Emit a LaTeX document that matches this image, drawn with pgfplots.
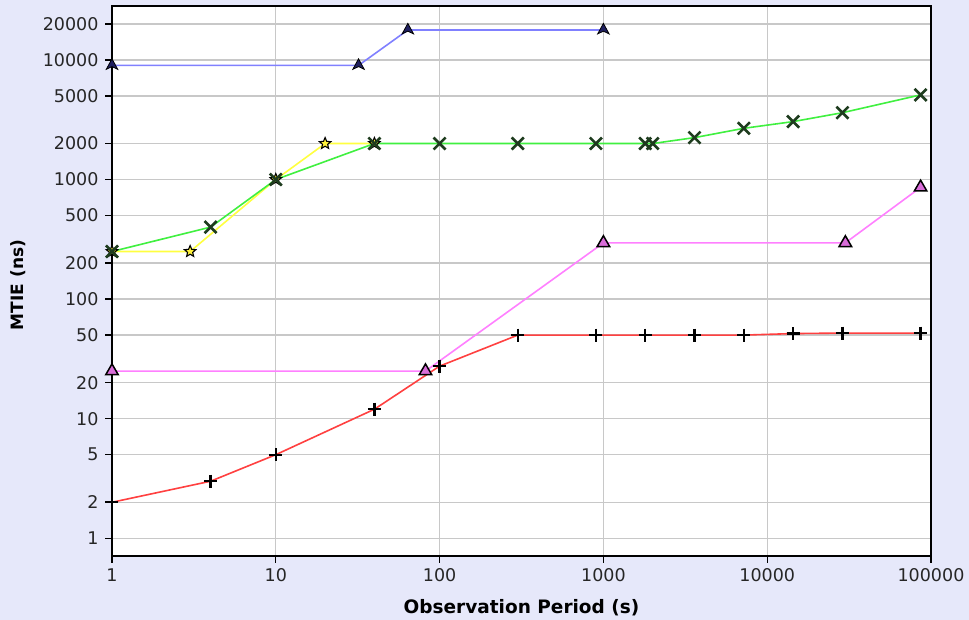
\documentclass[border=0pt]{standalone}
\usepackage{fontspec}
\setmainfont{DejaVu Sans}
\usepackage{pgfplots}
\pgfplotsset{compat=1.18}
\definecolor{bgpanel}{HTML}{E6E8FA}
\definecolor{gridgray}{HTML}{C8C8C8}
\definecolor{lnblue}{HTML}{8080FF}
\definecolor{lngreen}{HTML}{40F040}
\definecolor{lnyellow}{HTML}{FFFF40}
\definecolor{lnpink}{HTML}{FF80FF}
\definecolor{lnred}{HTML}{FF4040}
\definecolor{mknavy}{HTML}{202060}
\definecolor{mkgreen}{HTML}{1E3C1E}

% filled five-pointed star
\pgfdeclareplotmark{fstar}{%
  \pgfpathmoveto{\pgfqpointpolar{90}{\pgfplotmarksize}}%
  \pgfpathlineto{\pgfqpointpolar{126}{0.45\pgfplotmarksize}}%
  \pgfpathlineto{\pgfqpointpolar{162}{\pgfplotmarksize}}%
  \pgfpathlineto{\pgfqpointpolar{198}{0.45\pgfplotmarksize}}%
  \pgfpathlineto{\pgfqpointpolar{234}{\pgfplotmarksize}}%
  \pgfpathlineto{\pgfqpointpolar{270}{0.45\pgfplotmarksize}}%
  \pgfpathlineto{\pgfqpointpolar{306}{\pgfplotmarksize}}%
  \pgfpathlineto{\pgfqpointpolar{342}{0.45\pgfplotmarksize}}%
  \pgfpathlineto{\pgfqpointpolar{18}{\pgfplotmarksize}}%
  \pgfpathlineto{\pgfqpointpolar{54}{0.45\pgfplotmarksize}}%
  \pgfpathclose
  \pgfusepathqfillstroke}
% notched arrowhead
\pgfdeclareplotmark{arrowhd}{%
  \pgfpathmoveto{\pgfqpoint{0pt}{1.1\pgfplotmarksize}}%
  \pgfpathlineto{\pgfqpoint{0.95\pgfplotmarksize}{-0.65\pgfplotmarksize}}%
  \pgfpathlineto{\pgfqpoint{0pt}{-0.2\pgfplotmarksize}}%
  \pgfpathlineto{\pgfqpoint{-0.95\pgfplotmarksize}{-0.65\pgfplotmarksize}}%
  \pgfpathclose
  \pgfusepathqfillstroke}

\begin{document}
\begin{tikzpicture}[x=1pt,y=1pt]
% page background (969 x 620), axis box sits at (112,64)-(931,614)
\fill[bgpanel] (-112,-64) rectangle (857,556);
\begin{axis}[
  at={(0,0)}, anchor=south west,
  scale only axis, width=819pt, height=550pt,
  xmode=log, ymode=log,
  xmin=1, xmax=100000, ymin=0.711, ymax=28250,
  axis background/.style={fill=white},
  axis line style={black, line width=1.5pt},
  grid=major, grid style={gridgray, line width=1.3pt},
  xminorticks=false, yminorticks=false,
  xtick={1,10,100,1000,10000,100000},
  xticklabels={1,10,100,1000,10000,100000},
  ytick={1,2,5,10,20,50,100,200,500,1000,2000,5000,10000,20000},
  yticklabels={1,2,5,10,20,50,100,200,500,1000,2000,5000,10000,20000},
  tick align=outside, major tick length=7pt,
  tick style={black, line width=1.3pt},
  xtick pos=bottom, ytick pos=left,
  /pgf/number format/assume math mode=true,
  tick label style={font=\fontsize{17.5}{19}\selectfont, text=black!85},
  xticklabel style={yshift=-2pt},
  yticklabel style={xshift=-3pt},
  xlabel={\textbf{Observation Period (s)}},
  ylabel={\textbf{MTIE (ns)}},
  xlabel style={font=\fontsize{18.5}{20}\selectfont,
    at={(axis description cs:0.5,0)}, anchor=center, yshift=-52pt},
  ylabel style={font=\fontsize{17}{19}\selectfont,
    at={(axis description cs:-0.1148,0.4927)}, anchor=center},
  every axis plot/.append style={line width=1.6pt},
]
% blue
\addplot[lnblue, mark=arrowhd, mark size=6pt,
  mark options={fill=mknavy, draw=black, line width=0.8pt}] coordinates {
(1,9000) (32,9000) (64,17800) (1000,17800)};
% yellow
\addplot[lnyellow, mark=fstar, mark size=6pt,
  mark options={fill=lnyellow!90!orange, draw=black, line width=1.1pt}] coordinates {
(1,250) (3,250) (10,1000) (20,2000) (40,2000)};
% green
\addplot[lngreen, mark=x, mark size=8.5pt,
  mark options={draw=mkgreen, line width=2.6pt}] coordinates {
(1,250) (4,400) (10,1000) (40,2000) (100,2000) (300,2000) (900,2000)
(1800,2000) (2000,2000) (3600,2240) (7200,2680) (14400,3050) (28800,3620) (86400,5100)};
% pink
\addplot[lnpink, mark=triangle*, mark size=7.2pt,
  mark options={fill=lnpink!85!black, draw=black, line width=1.5pt}] coordinates {
(1,25) (82,25) (1000,295) (30000,295) (86400,860)};
% red
\addplot[lnred, mark=+, mark size=6.5pt,
  mark options={draw=black, line width=2.3pt}] coordinates {
(1,2) (4,3) (10,5) (40,12) (100,27.5) (300,50) (900,50) (1800,50)
(3600,50) (7200,50) (14400,51.5) (28800,52) (86400,52)};
\end{axis}
\end{tikzpicture}
\end{document}
